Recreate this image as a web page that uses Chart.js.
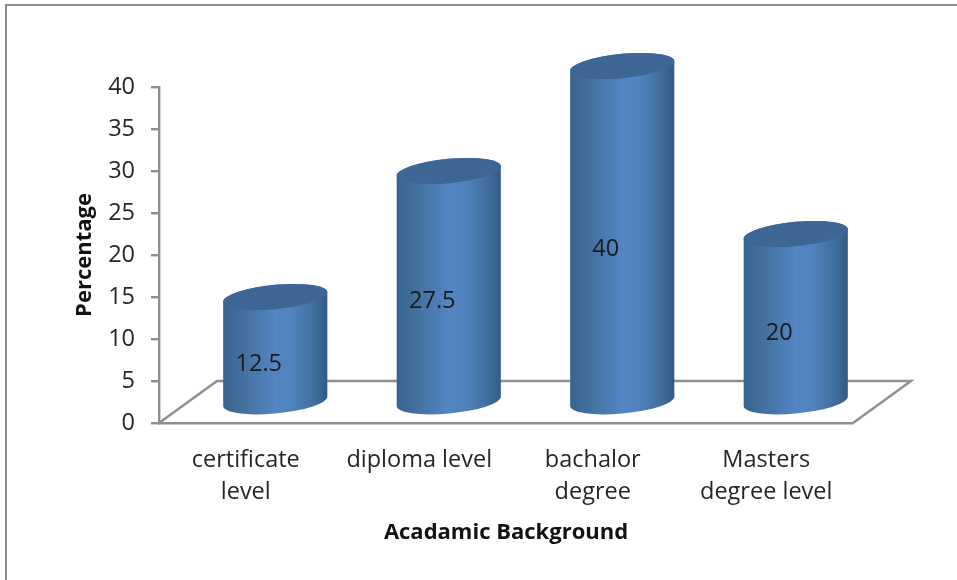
<!DOCTYPE html>
<html>
<head>
<meta charset="utf-8">
<style>
html, body { margin: 0; padding: 0; background: #fff; overflow: hidden; }
#frame { position: absolute; left: 5px; top: 4px; width: 952px; height: 576px; box-sizing: border-box; border-left: 2px solid #8c8c8c; border-top: 2px solid #8c8c8c; }
#academic { position: absolute; left: 0; top: 0; }
</style>
<script src="https://cdn.jsdelivr.net/npm/chart.js@4"></script>
</head>
<body>
<div id="frame"></div>
<canvas id="academic" width="957" height="580"></canvas>
<script>
var categories = [['certificate', 'level'], 'diploma level', ['bachalor', 'degree'], ['Masters', 'degree level']];
var percentages = [12.5, 27.5, 40, 20];
var axisMax = 40;
var axisStep = 5;

var FONT = '"Open Sans", "Noto Sans", sans-serif';
var AXIS_GREY = '#8f8f8f';
var DEPTH_X = 58;

// 3d floor behind the bars, depth is one tick of the y axis
var floorPlugin = {
    id: 'floor',
    beforeDatasetsDraw: function (chart) {
        var c = chart.ctx, x = chart.scales.x, y = chart.scales.y;
        var y0 = y.getPixelForValue(0), yBack = y.getPixelForValue(axisStep);
        c.save();
        c.strokeStyle = AXIS_GREY;
        c.lineWidth = 2.4;
        c.beginPath();
        c.moveTo(x.left, y0);
        c.lineTo(x.left + DEPTH_X, yBack);
        c.lineTo(x.right + DEPTH_X, yBack);
        c.lineTo(x.right, y0);
        c.stroke();
        c.restore();
    }
};

// draws each bar element as a tilted cylinder, moved half way into the floor
var cylinderPlugin = {
    id: 'cylinders',
    afterDatasetsDraw: function (chart) {
        var c = chart.ctx, y = chart.scales.y;
        var dy = (y.getPixelForValue(0) - y.getPixelForValue(axisStep)) / 2;
        var tilt = -0.095, rx = 52.3, ry = 12.2;
        var t0 = Math.atan2(-ry * Math.sin(tilt), rx * Math.cos(tilt));
        var halfW = rx * Math.cos(tilt) * Math.cos(t0) - ry * Math.sin(tilt) * Math.sin(t0);
        var slope = rx * Math.sin(tilt) * Math.cos(t0) + ry * Math.cos(tilt) * Math.sin(t0);

        chart.getDatasetMeta(0).data.forEach(function (bar, i) {
            var cx = bar.x + DEPTH_X / 2 + 0.5, top = bar.y - dy, base = bar.base - dy + 0.5;
            var g = c.createLinearGradient(cx - halfW, 0, cx + halfW, 0);
            g.addColorStop(0, '#38638f');
            g.addColorStop(0.2, '#44719f');
            g.addColorStop(0.5, '#5485c4');
            g.addColorStop(0.66, '#5082bd');
            g.addColorStop(0.86, '#41709f');
            g.addColorStop(1, '#335a85');

            c.save();
            c.beginPath();
            c.ellipse(cx, base, rx, ry, tilt, t0, t0 + Math.PI, false);
            c.lineTo(cx - halfW, top - slope);
            c.ellipse(cx, top, rx, ry, tilt, t0 + Math.PI, t0 + 2 * Math.PI, false);
            c.closePath();
            c.fillStyle = g;
            c.fill();

            c.beginPath();
            c.ellipse(cx, top, rx, ry, tilt, 0, 2 * Math.PI);
            c.fillStyle = '#3e6695';
            c.fill();

            c.fillStyle = '#1a1a1a';
            c.font = '23.5px ' + FONT;
            c.textAlign = 'center';
            c.textBaseline = 'middle';
            c.fillText(String(percentages[i]), bar.x + 13, y.getPixelForValue(percentages[i] / 2) - 6);
            c.restore();
        });
    }
};

var ctx = document.getElementById('academic').getContext('2d');
var chart = new Chart(ctx, {
    type: 'bar',
    data: {
        labels: categories,
        datasets: [{
            data: percentages,
            backgroundColor: 'transparent',
            barThickness: 104
        }]
    },
    plugins: [floorPlugin, cylinderPlugin],
    options: {
        responsive: false,
        animation: false,
        layout: {
            padding: { left: 68, right: 104, top: 87, bottom: 30 }
        },
        plugins: {
            legend: { display: false },
            tooltip: { enabled: false }
        },
        scales: {
            x: {
                grid: { display: false },
                border: { color: AXIS_GREY, width: 2.4 },
                ticks: {
                    color: '#262626',
                    padding: 13,
                    maxRotation: 0,
                    autoSkip: false,
                    font: { family: FONT, size: 23.5, lineHeight: 1.36 }
                },
                title: {
                    display: true,
                    text: 'Acadamic Background',
                    color: '#111',
                    font: { family: FONT, size: 22, weight: 'bold' }
                },
                afterFit: function (scale) { scale.height = 127; }
            },
            y: {
                min: 0,
                max: axisMax,
                grid: { drawOnChartArea: false, color: AXIS_GREY, lineWidth: 2.4, tickLength: 8 },
                border: { color: AXIS_GREY, width: 2.4 },
                ticks: {
                    stepSize: axisStep,
                    color: '#262626',
                    padding: 16,
                    font: { family: FONT, size: 23.5 }
                },
                title: {
                    display: true,
                    text: 'Percentage',
                    color: '#111',
                    font: { family: FONT, size: 22, weight: 'bold' }
                },
                afterFit: function (scale) { scale.width = 91; }
            }
        }
    }
});
</script>
</body>
</html>
